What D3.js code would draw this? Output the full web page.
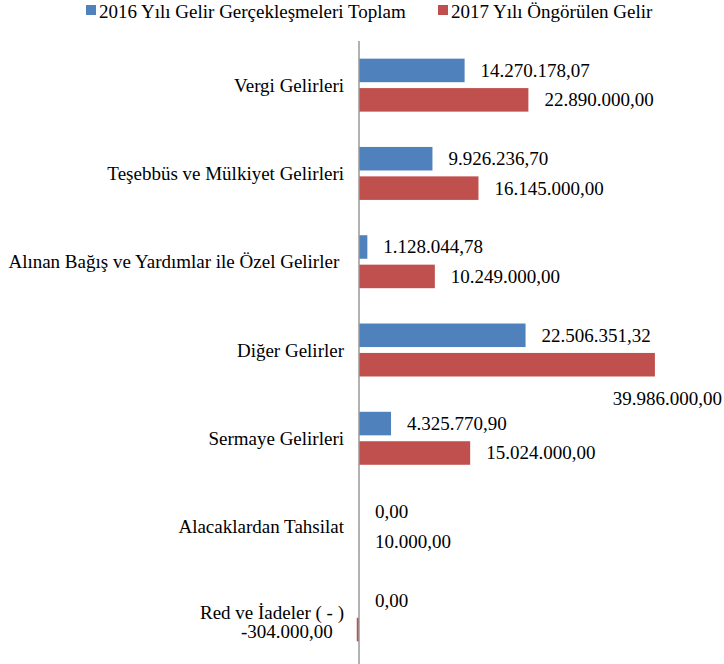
<!DOCTYPE html>
<html>
<head>
<meta charset="utf-8">
<script src="https://cdn.jsdelivr.net/npm/d3@7"></script>
<style>
body { margin: 0; background: #fff; }
</style>
</head>
<body>
<svg width="724" height="664"></svg>
<script>
var FONT = "'Liberation Serif', 'Times New Roman', serif";
var svg = d3.select('svg').style('font-family', FONT);

// data
var categories = [
    'Vergi Gelirleri',
    'Teşebbüs ve Mülkiyet Gelirleri',
    'Alınan Bağış ve Yardımlar ile Özel Gelirler ',
    'Diğer Gelirler',
    'Sermaye Gelirleri',
    'Alacaklardan Tahsilat',
    'Red ve İadeler ( - )'
];
var seriesNames = ['2016 Yılı Gelir Gerçekleşmeleri Toplam', '2017 Yılı Öngörülen Gelir'];
var values2016 = [14270178.07, 9926236.70, 1128044.78, 22506351.32, 4325770.90, 0, 0];
var values2017 = [22890000, 16145000, 10249000, 39986000, 15024000, 10000, -304000];
var colors = ['#4F81BD', '#C0504D'];

var W = 724;
var fmt = function (v) {
    var s = Math.abs(v).toFixed(2).split('.');
    var intPart = s[0].replace(/\B(?=(\d{3})+(?!\d))/g, '.');
    return (v < 0 ? '-' : '') + intPart + ',' + s[1];
};

var rows = categories.map(function (c, i) {
    return {cat: c, vals: [values2016[i], values2017[i]]};
});

var x = d3.scaleLinear().domain([0, 40000000]).range([359, 655]);
var y = d3.scaleBand().domain(categories).range([41, 659]).paddingInner(0.4).paddingOuter(0.2);
var y1 = d3.scaleBand().domain([0, 1]).range([0, y.bandwidth()]).paddingInner(0.2);

// bars
var groups = svg.selectAll('g.grp')
    .data(rows).enter()
    .append('g')
    .attr('class', 'grp')
    .attr('transform', function (d) { return 'translate(0,' + y(d.cat) + ')'; });

var items = groups.selectAll('g.item')
    .data(function (d) { return d.vals.map(function (v, k) { return {v: v, k: k}; }); })
    .enter().append('g').attr('class', 'item');

items.append('rect')
    .attr('x', function (d) { return Math.min(x(0), x(d.v)); })
    .attr('y', function (d) { return y1(d.k); })
    .attr('width', function (d) { return Math.abs(x(d.v) - x(0)); })
    .attr('height', y1.bandwidth())
    .attr('fill', function (d) { return colors[d.k]; });

// value labels
items.append('text')
    .style('font-family', FONT)
    .attr('font-size', 19)
    .attr('dominant-baseline', 'central')
    .attr('y', function (d) { return y1(d.k) + y1.bandwidth() / 2 + (d.v < 0 ? 2 : 0); })
    .attr('x', function (d) { return d.v < 0 ? x(d.v) - 24 : x(d.v) + 16; })
    .attr('text-anchor', function (d) { return d.v < 0 ? 'end' : 'start'; })
    .text(function (d) { return fmt(d.v); })
    .each(function (d) {
        var t = d3.select(this);
        var w = this.getComputedTextLength();
        if (d.v >= 0 && x(d.v) + 16 + w > W) {
            t.attr('text-anchor', 'end')
                .attr('x', W - 2)
                .attr('y', y1(d.k) + y1.bandwidth() / 2 + 34);
        }
    });

// category labels
svg.selectAll('text.cat')
    .data(categories).enter()
    .append('text')
    .attr('class', 'cat')
    .style('font-family', FONT)
    .attr('font-size', 19)
    .attr('x', 344)
    .attr('y', function (d, i) { return y(d) + y.bandwidth() / 2 + (i === categories.length - 1 ? -2 : 0); })
    .attr('dominant-baseline', 'central')
    .attr('text-anchor', 'end')
    .style('white-space', 'pre')
    .text(function (d) { return d; });

// axis line
svg.append('line')
    .attr('x1', x(0)).attr('x2', x(0))
    .attr('y1', 41).attr('y2', 664)
    .attr('stroke', '#999')
    .attr('stroke-width', 1.5);

// legend
var legendX = [86, 438];
var legend = svg.selectAll('g.leg')
    .data(seriesNames).enter()
    .append('g')
    .attr('class', 'leg')
    .attr('transform', function (d, i) { return 'translate(' + legendX[i] + ',0)'; });

legend.append('rect')
    .attr('x', 0).attr('y', 5)
    .attr('width', 10).attr('height', 10)
    .attr('fill', function (d, i) { return colors[i]; });

legend.append('text')
    .style('font-family', FONT)
    .attr('font-size', 19)
    .attr('x', 13).attr('y', 11)
    .attr('dominant-baseline', 'central')
    .text(function (d) { return d; });
</script>
</body>
</html>
